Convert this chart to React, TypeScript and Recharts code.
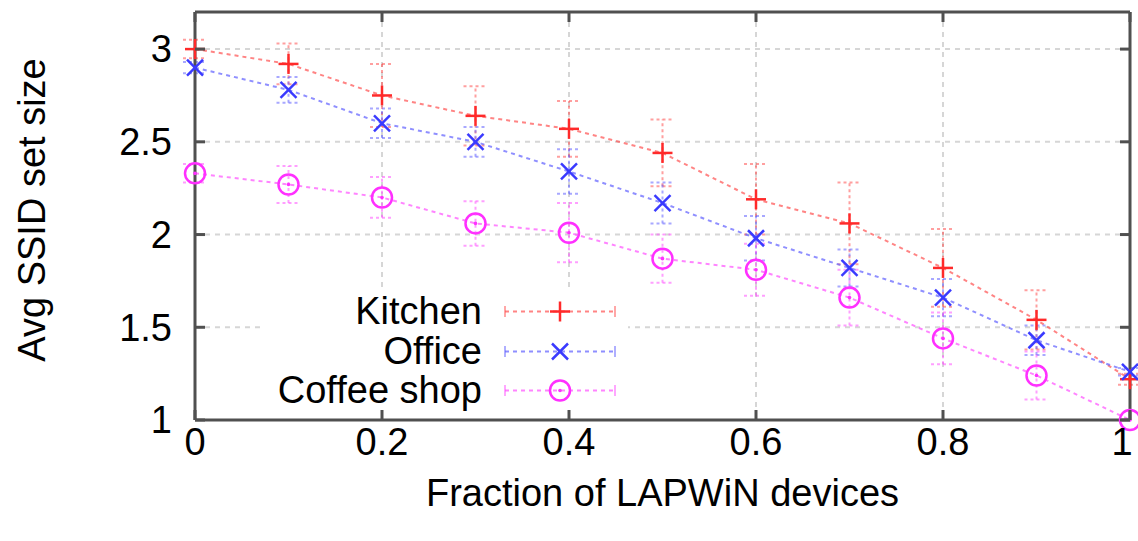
import React from 'react';
import {
  LineChart, Line, XAxis, YAxis, CartesianGrid, ErrorBar, Legend,
} from 'recharts';

if (typeof document !== 'undefined') document.body.style.margin = '0';

// fraction of LAPWiN devices
const fractions = [0, 0.1, 0.2, 0.3, 0.4, 0.5, 0.6, 0.7, 0.8, 0.9, 1];

const kitchen = [3.0, 2.92, 2.75, 2.64, 2.57, 2.44, 2.19, 2.06, 1.82, 1.54, 1.22];
const kitchenErr = [0.05, 0.11, 0.17, 0.16, 0.15, 0.18, 0.19, 0.22, 0.21, 0.16, 0.03];

const office = [2.9, 2.78, 2.6, 2.5, 2.34, 2.17, 1.98, 1.82, 1.66, 1.43, 1.26];
const officeErr = [0.03, 0.07, 0.08, 0.08, 0.12, 0.11, 0.12, 0.1, 0.1, 0.08, 0.02];

const coffee = [2.33, 2.27, 2.2, 2.06, 2.01, 1.87, 1.81, 1.66, 1.44, 1.24, 1.0];
const coffeeErr = [0.05, 0.1, 0.11, 0.12, 0.16, 0.13, 0.14, 0.15, 0.14, 0.13, 0];

const xTicks = [0, 0.2, 0.4, 0.6, 0.8, 1];
const yTicks = [1, 1.5, 2, 2.5, 3];

const data = fractions.map((x, i) => ({
  x,
  kitchen: kitchen[i],
  kitchenErr: kitchenErr[i],
  office: office[i],
  officeErr: officeErr[i],
  coffee: coffee[i],
  coffeeErr: coffeeErr[i],
}));

const FONT = '"Liberation Sans", Arial, Helvetica, sans-serif';
const FS = 38;
const FRAME = '#505050';
const TICK_LEN = 10;

const SERIES = [
  { key: 'kitchen', name: 'Kitchen', line: '#ff5050', mark: '#ff2a2a', shape: 'plus' },
  { key: 'office', name: 'Office', line: '#6060ff', mark: '#3a3aff', shape: 'cross' },
  { key: 'coffee', name: 'Coffee shop', line: '#ff50ff', mark: '#ff30ff', shape: 'circle' },
];

function Marker({ shape, cx, cy, color }: { shape: string; cx: number; cy: number; color: string }) {
  const r = 10;
  if (shape === 'plus') {
    return (
      <g stroke={color} strokeWidth={2.5}>
        <line x1={cx - r} y1={cy} x2={cx + r} y2={cy} />
        <line x1={cx} y1={cy - r} x2={cx} y2={cy + r} />
      </g>
    );
  }
  if (shape === 'cross') {
    const d = 8;
    return (
      <g stroke={color} strokeWidth={2.5}>
        <line x1={cx - d} y1={cy - d} x2={cx + d} y2={cy + d} />
        <line x1={cx - d} y1={cy + d} x2={cx + d} y2={cy - d} />
      </g>
    );
  }
  return (
    <g>
      <circle cx={cx} cy={cy} r={r} fill="none" stroke={color} strokeWidth={2.5} />
      <circle cx={cx} cy={cy} r={1.8} fill={color} />
    </g>
  );
}

const makeDot = (shape: string, color: string) => (props: any) => {
  const { cx, cy, index } = props;
  if (cx == null || cy == null) return <g key={`d-${shape}-${index}`} />;
  return (
    <g key={`d-${shape}-${index}`}>
      <Marker shape={shape} cx={cx} cy={cy} color={color} />
    </g>
  );
};

const XTick = (props: any) => {
  const { x, y, payload } = props;
  // keep the last label inside the picture
  const shift = payload.value === 1 ? -8 : 0;
  return (
    <g>
      <line x1={x} y1={y} x2={x} y2={y - TICK_LEN} stroke={FRAME} strokeWidth={3} />
      <text x={x + shift} y={y + 35} textAnchor="middle" fontFamily={FONT} fontSize={FS} fill="#000">
        {String(payload.value)}
      </text>
    </g>
  );
};

const YTick = (props: any) => {
  const { x, y, payload } = props;
  return (
    <g>
      <line x1={x} y1={y} x2={x + TICK_LEN} y2={y} stroke={FRAME} strokeWidth={3} />
      <text x={x - 23} y={y} dy="0.35em" textAnchor="end" fontFamily={FONT} fontSize={FS} fill="#000">
        {String(payload.value)}
      </text>
    </g>
  );
};

const TopTick = (props: any) => {
  const { x, y } = props;
  return <line x1={x} y1={y} x2={x} y2={y + TICK_LEN} stroke={FRAME} strokeWidth={3} />;
};

const RightTick = (props: any) => {
  const { x, y } = props;
  return <line x1={x} y1={y} x2={x - TICK_LEN} y2={y} stroke={FRAME} strokeWidth={3} />;
};

const YLabel = (props: any) => {
  const vb = props.viewBox || {};
  const cx = vb.x + 32;
  const cy = vb.y + vb.height / 2 - 6;
  return (
    <text
      x={cx}
      y={cy}
      transform={`rotate(-90 ${cx} ${cy})`}
      textAnchor="middle"
      dy="0.35em"
      fontFamily={FONT}
      fontSize={FS}
      fill="#000"
    >
      Avg SSID set size
    </text>
  );
};

const KeyBox = () => (
  <div style={{ background: '#fff', width: 366, height: 118, fontFamily: FONT, fontSize: FS }}>
    {SERIES.map((s) => (
      <div key={s.key} style={{ display: 'flex', alignItems: 'center', height: 39.5 }}>
        <div style={{ width: 220, textAlign: 'right', lineHeight: '39px', color: '#000' }}>{s.name}</div>
        <svg width={146} height={39} style={{ display: 'block' }}>
          <line x1={23} y1={19.5} x2={133} y2={19.5} stroke={s.line} strokeOpacity={0.7}
            strokeWidth={2} strokeDasharray="4 4" />
          <line x1={23} y1={14} x2={23} y2={25} stroke={s.line} strokeOpacity={0.5} strokeWidth={2} />
          <line x1={133} y1={14} x2={133} y2={25} stroke={s.line} strokeOpacity={0.5} strokeWidth={2} />
          <Marker shape={s.shape} cx={78} cy={19.5} color={s.mark} />
        </svg>
      </div>
    ))}
  </div>
);

export default function App() {
  return (
    <div style={{ width: 1138, height: 541, background: '#fff' }}>
      <LineChart
        width={1138}
        height={541}
        data={data}
        margin={{ top: 11, right: 7, bottom: 0, left: 0 }}
      >
        <CartesianGrid stroke="#d6d6d6" strokeWidth={2} strokeDasharray="5 5" />
        <XAxis
          dataKey="x"
          type="number"
          domain={[0, 1]}
          ticks={xTicks}
          interval={0}
          height={121}
          tickSize={0}
          tickMargin={0}
          tickLine={false}
          axisLine={{ stroke: FRAME, strokeWidth: 3 }}
          tick={<XTick />}
          label={{
            value: 'Fraction of LAPWiN devices',
            position: 'insideBottom',
            offset: 35,
            style: { fontFamily: FONT, fontSize: FS, fill: '#000' },
          }}
        />
        <XAxis
          xAxisId="top"
          dataKey="x"
          orientation="top"
          type="number"
          domain={[0, 1]}
          allowDataOverflow
          ticks={xTicks}
          interval={0}
          height={1}
          tickSize={0}
          tickMargin={0}
          tickLine={false}
          axisLine={{ stroke: FRAME, strokeWidth: 3 }}
          tick={<TopTick />}
        />
        <YAxis
          type="number"
          domain={[1, 3.2]}
          ticks={yTicks}
          interval={0}
          width={195}
          tickSize={0}
          tickMargin={0}
          tickLine={false}
          axisLine={{ stroke: FRAME, strokeWidth: 3 }}
          tick={<YTick />}
          label={<YLabel />}
        />
        <YAxis
          yAxisId="right"
          orientation="right"
          type="number"
          domain={[1, 3.2]}
          allowDataOverflow
          ticks={yTicks}
          interval={0}
          width={1}
          tickSize={0}
          tickMargin={0}
          tickLine={false}
          axisLine={{ stroke: FRAME, strokeWidth: 3 }}
          tick={<RightTick />}
        />
        <Legend
          layout="horizontal"
          verticalAlign="middle"
          align="center"
          wrapperStyle={{ left: 262, top: 292, width: 366, height: 118 }}
          content={() => <KeyBox />}
        />
        {SERIES.map((s) => (
          <Line
            key={s.key}
            dataKey={s.key}
            name={s.name}
            type="linear"
            stroke={s.line}
            strokeOpacity={0.7}
            strokeWidth={2}
            strokeDasharray="4 4"
            dot={makeDot(s.shape, s.mark)}
            activeDot={false}
            isAnimationActive={false}
          >
            <ErrorBar
              dataKey={`${s.key}Err`}
              direction="y"
              width={12}
              stroke={s.line}
              strokeOpacity={0.55}
              strokeWidth={2}
              strokeDasharray="3 3"
            />
          </Line>
        ))}
      </LineChart>
    </div>
  );
}
